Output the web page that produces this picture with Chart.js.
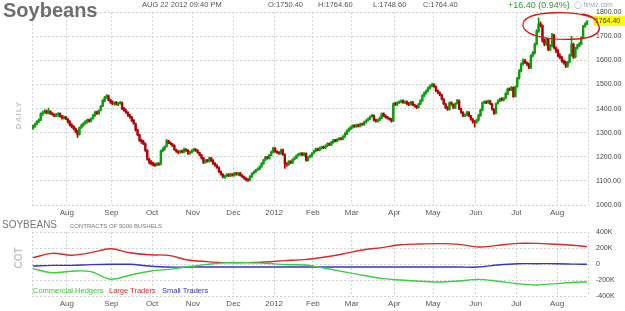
<!DOCTYPE html>
<html>
<head>
<meta charset="utf-8">
<script src="https://cdn.jsdelivr.net/npm/chart.js@4.4.0/dist/chart.umd.min.js"></script>
<style>
  body { margin: 0; width: 625px; height: 311px; overflow: hidden; background: #fff; position: relative;
         font-family: 'Liberation Sans', Arial, sans-serif; }
  canvas { position: absolute; left: 0; }
  .t { position: absolute; white-space: nowrap; }
  .hd { top: 0; font-size: 7.5px; line-height: 10px; color: #555; }
  .rot { transform: translate(-50%, -50%) rotate(-90deg); font-weight: bold; color: #c4c4c4; }
</style>
</head>
<body>
<canvas id="price" width="625" height="218" style="top:0"></canvas>
<canvas id="cot" width="625" height="93" style="top:218px"></canvas>

<div class="t" style="left:3px;top:-2px;font-size:20px;line-height:24px;font-weight:bold;color:#6e6e6e">Soybeans</div>
<div class="t hd" style="left:142px">AUG 22 2012 09:40 PM</div>
<div class="t hd" style="left:268px">O:1750.40</div>
<div class="t hd" style="left:318px">H:1764.60</div>
<div class="t hd" style="left:373px">L:1748.60</div>
<div class="t hd" style="left:423px">C:1764.40</div>
<div class="t" style="left:508px;top:0;font-size:9px;line-height:10px;color:#2f9e2f">+16.40 (0.94%)</div>
<div class="t" style="left:574px;top:1px;font-size:6.5px;line-height:8px;color:#8ea6c8">&#9711; finviz.com</div>
<div class="t" style="left:593px;top:16px;width:32px;height:10px;background:#ffff00;font-size:7px;line-height:10px;color:#333">&nbsp;1764.40</div>
<div class="t rot" style="left:18px;top:115px;font-size:8px;letter-spacing:1px">DAILY</div>

<div class="t" style="left:2px;top:219px;font-size:10px;line-height:12px;color:#777">SOYBEANS</div>
<div class="t" style="left:70px;top:222px;font-size:6px;line-height:8px;color:#777">CONTRACTS OF 5000 BUSHELS</div>
<div class="t rot" style="left:18px;top:258px;font-size:10px">COT</div>
<div class="t" style="left:33px;top:286px;font-size:7.5px;line-height:9px;color:#33cc33">Commercial Hedgers</div>
<div class="t" style="left:109px;top:286px;font-size:7.5px;line-height:9px;color:#dd2a2a">Large Traders</div>
<div class="t" style="left:162px;top:286px;font-size:7.5px;line-height:9px;color:#3333cc">Small Traders</div>

<svg class="t" style="left:0;top:0" width="625" height="311">
  <path d="M593 18 C576 11, 533 10, 524 21 C517 35, 548 41, 577 39 C594 38, 603 32, 598 24 C596 19, 590 15, 582 14"
        fill="none" stroke="#e01414" stroke-width="1.3"/>
</svg>

<script>
// month ticks: first trading day index of each month
var monthLabels = ['Aug', 'Sep', 'Oct', 'Nov', 'Dec', '2012', 'Feb', 'Mar', 'Apr', 'May', 'Jun', 'Jul', 'Aug'];
var monthStarts = [18, 41, 62, 83, 104, 125, 145, 165, 187, 207, 229, 250, 271];

// daily soybean prices, Jul 2011 - Aug 22 2012
var opens = [
  1318,1327,1336,1347,1353,1377,1385,1391,1381,1389,1381,1375,1369,1373,1379,1369,1359,1365,
  1357,1346,1333,1326,1317,1306,1293,1321,1329,1339,1344,1353,1349,1359,1371,1386,1379,1393,1411,1432,1446,1453,1436,
  1429,1419,1425,1417,1421,1424,1401,1393,1384,1373,1364,1351,1337,1311,1291,1269,1263,1254,1226,1191,1179,
  1174,1169,1165,1171,1170,1224,1233,1243,1265,1259,1253,1247,1229,1223,1217,1225,1219,1231,1227,1213,1219,
  1225,1231,1225,1217,1207,1196,1177,1185,1181,1196,1184,1173,1164,1155,1139,1127,1115,1121,1126,1121,1128,
  1123,1132,1127,1133,1123,1117,1111,1105,1104,1117,1132,1137,1146,1149,1159,1171,1187,1199,1193,1207,1219,
  1236,1221,1219,1213,1229,1209,1171,1167,1181,1175,1189,1195,1206,1209,1215,1207,1213,1185,1199,1204,
  1215,1224,1233,1227,1235,1241,1237,1245,1255,1249,1259,1269,1264,1271,1277,1273,1283,1295,1307,1315,
  1321,1331,1325,1333,1327,1338,1333,1344,1351,1357,1367,1371,1353,1347,1353,1361,1379,1371,1365,1359,1357,1350,
  1421,1417,1425,1427,1433,1425,1429,1421,1417,1427,1416,1411,1404,1419,1432,1455,1464,1475,1485,1494,
  1501,1491,1475,1466,1457,1439,1419,1404,1397,1425,1417,1404,1421,1432,1399,1384,1370,1375,1384,1369,1356,1347,
  1345,1353,1371,1394,1423,1429,1425,1431,1419,1397,1381,1421,1431,1441,1435,1443,1461,1482,1477,1487,1451,
  1491,1526,1556,1585,1599,1590,1585,1570,1620,1631,1668,1721,1753,1744,1681,1666,1689,1645,1661,1705,1652,
  1641,1618,1613,1597,1591,1576,1593,1621,1667,1613,1651,1661,1667,1694,1741,1750.4
];
var highs = [
  1332,1340,1350,1358,1382,1390,1396,1394,1402,1392,1384,1378,1380,1384,1382,1372,1370,1368,
  1360,1350,1338,1330,1320,1310,1324,1336,1342,1350,1356,1356,1362,1376,1390,1390,1396,1414,1437,1451,1458,1456,1440,
  1432,1428,1430,1426,1430,1428,1405,1398,1388,1376,1368,1354,1340,1315,1294,1274,1268,1258,1230,1195,1184,
  1178,1174,1176,1176,1228,1238,1246,1272,1268,1262,1256,1250,1232,1226,1228,1228,1236,1234,1230,1224,1230,
  1236,1234,1230,1220,1210,1198,1188,1190,1198,1198,1188,1176,1168,1158,1142,1130,1124,1130,1130,1132,1130,
  1136,1136,1136,1136,1126,1120,1114,1110,1122,1134,1142,1148,1154,1162,1176,1190,1202,1202,1210,1224,1240,
  1238,1226,1222,1232,1232,1212,1176,1184,1184,1192,1200,1208,1214,1218,1218,1218,1216,1202,1208,1218,
  1228,1236,1236,1240,1244,1244,1250,1258,1258,1264,1272,1272,1276,1280,1280,1288,1300,1312,1320,1326,
  1334,1334,1336,1336,1340,1340,1348,1354,1362,1370,1376,1374,1356,1356,1366,1382,1382,1374,1368,1362,1360,1424,
  1426,1428,1432,1436,1436,1432,1432,1426,1430,1430,1418,1414,1422,1437,1458,1470,1478,1490,1499,1506,
  1504,1494,1478,1470,1460,1442,1422,1408,1428,1428,1420,1424,1438,1436,1402,1388,1378,1390,1388,1372,1360,1350,
  1356,1376,1398,1428,1432,1432,1436,1434,1422,1400,1424,1436,1444,1446,1446,1466,1485,1486,1492,1490,1494,
  1530,1562,1590,1606,1604,1594,1590,1624,1638,1672,1728,1776,1760,1748,1690,1694,1692,1666,1712,1708,1656,
  1646,1628,1618,1602,1596,1596,1626,1700,1672,1654,1668,1674,1698,1746,1756,1764.6
];
var lows = [
  1314,1322,1332,1342,1350,1372,1380,1378,1378,1376,1372,1366,1366,1368,1364,1356,1356,1354,
  1340,1328,1320,1312,1300,1280,1290,1318,1326,1334,1340,1344,1345,1356,1368,1376,1376,1390,1408,1428,1442,1432,1422,
  1416,1414,1414,1412,1418,1396,1388,1380,1368,1360,1346,1334,1306,1288,1264,1256,1250,1222,1186,1170,1166,
  1162,1160,1162,1164,1166,1220,1228,1240,1254,1250,1242,1226,1218,1212,1214,1216,1216,1222,1210,1210,1216,
  1222,1222,1214,1204,1190,1172,1174,1178,1178,1180,1168,1160,1152,1134,1124,1112,1110,1116,1118,1118,1120,
  1120,1124,1122,1120,1114,1106,1100,1098,1100,1114,1128,1134,1142,1146,1156,1168,1184,1190,1190,1204,1216,
  1218,1214,1210,1210,1206,1152,1160,1164,1172,1172,1186,1192,1202,1206,1204,1204,1182,1182,1196,1200,
  1212,1220,1224,1224,1232,1234,1234,1242,1246,1246,1256,1262,1262,1268,1270,1270,1280,1292,1304,1312,
  1318,1322,1322,1324,1324,1330,1330,1340,1348,1354,1364,1348,1344,1344,1350,1358,1366,1360,1356,1352,1344,1346,
  1412,1412,1420,1424,1422,1420,1416,1412,1414,1412,1406,1400,1402,1416,1430,1450,1460,1470,1482,1490,
  1488,1470,1462,1454,1436,1416,1400,1392,1394,1414,1400,1400,1418,1396,1380,1366,1366,1370,1366,1352,1340,1323,
  1338,1348,1368,1390,1420,1420,1422,1416,1394,1376,1378,1418,1428,1432,1432,1440,1458,1474,1474,1446,1448,
  1488,1522,1552,1580,1586,1578,1566,1566,1614,1626,1664,1716,1738,1676,1660,1662,1640,1640,1656,1648,1632,
  1614,1606,1592,1584,1570,1572,1590,1618,1608,1610,1646,1656,1664,1690,1738,1748.6
];
var closes = [
  1328,1335,1346,1352,1378,1384,1390,1382,1388,1380,1376,1370,1374,1378,1368,1360,1364,1358,
  1345,1332,1325,1318,1305,1292,1320,1330,1338,1345,1352,1348,1358,1372,1385,1380,1392,1410,1433,1447,1452,1435,1428,
  1420,1424,1418,1422,1425,1400,1392,1385,1372,1365,1350,1338,1310,1292,1268,1262,1255,1227,1190,1178,1173,
  1168,1164,1172,1168,1225,1232,1242,1266,1258,1254,1246,1230,1222,1218,1224,1220,1232,1226,1214,1220,1226,
  1230,1226,1218,1208,1195,1178,1184,1182,1195,1185,1172,1165,1156,1138,1128,1116,1120,1125,1122,1127,1124,
  1131,1128,1132,1124,1118,1110,1106,1103,1118,1131,1138,1145,1150,1158,1172,1186,1198,1194,1206,1220,1235,
  1222,1218,1214,1228,1210,1172,1168,1180,1176,1188,1196,1205,1210,1214,1208,1214,1186,1198,1205,1214,
  1225,1232,1228,1236,1240,1238,1246,1254,1250,1260,1268,1265,1272,1276,1274,1284,1296,1308,1316,1322,
  1330,1326,1332,1328,1337,1334,1345,1350,1358,1366,1372,1352,1348,1352,1362,1378,1370,1364,1360,1356,1348,1420,
  1418,1424,1428,1432,1426,1428,1420,1418,1426,1415,1410,1405,1418,1433,1454,1465,1474,1486,1495,1500,
  1492,1474,1467,1458,1440,1420,1405,1398,1424,1418,1405,1420,1433,1400,1385,1371,1374,1385,1370,1357,1348,1344,
  1352,1372,1395,1424,1428,1426,1432,1420,1398,1380,1420,1432,1440,1436,1442,1462,1481,1478,1488,1450,1490,
  1525,1557,1584,1598,1591,1584,1571,1619,1632,1667,1722,1752,1745,1682,1667,1688,1646,1660,1706,1653,1640,
  1619,1612,1598,1590,1577,1592,1622,1668,1614,1650,1662,1668,1695,1742,1750.4,1764.4
];

// COT positions (thousands of contracts), sampled at these trading-day indexes
var cotIdx = [0, 10, 20, 30, 40, 50, 60, 70, 80, 90, 100, 110, 120, 130, 140, 150, 160, 170, 180, 190, 200, 210, 220, 230, 240, 250, 260, 270, 280, 286];
var largeTraders = [79, 133, 110, 142, 190, 140, 115, 108, 50, 30, 17, 17, 25, 42, 55, 85, 125, 175, 205, 240, 250, 255, 245, 212, 233, 258, 258, 246, 232, 217];
var commercialHedgers = [-58, -108, -90, -96, -190, -140, -90, -67, -35, -5, 17, 17, 10, -8, -12, -50, -95, -140, -180, -200, -215, -225, -212, -192, -215, -246, -262, -245, -228, -225];
var smallTraders = [-25, -17, -17, -8, -4, -4, -25, -38, -38, -38, -38, -38, -38, -38, -38, -38, -38, -38, -38, -38, -38, -38, -38, -38, -12, 4, 4, 4, -2, -4];

var GREEN = '#0a9e0a', RED = '#b50000';
var last = closes.length - 1;
var xTickVals = [-0.5].concat(monthStarts.map(function(m) { return m - 0.5; }), [last + 0.5]);
var xTickLabels = [''].concat(monthLabels, ['']);

Chart.defaults.font.family = "'Liberation Sans', Arial, sans-serif";

function candleColor(i) {
  return closes[i] >= opens[i] ? GREEN : RED;
}

function xAxis(h) {
  return {
    type: 'linear', min: -0.5, max: last + 0.5, offset: false,
    afterBuildTicks: function(s) { s.ticks = xTickVals.map(function(v) { return {value: v}; }); },
    afterFit: function(s) { s.height = h; },
    grid: {color: '#d2d2d2', drawTicks: false, offset: false},
    border: {display: false, dash: [2, 2]},
    ticks: {autoSkip: false, maxRotation: 0, padding: 3, color: '#555', font: {size: 8},
            callback: function(v, i) { return xTickLabels[i]; }}
  };
}

new Chart(document.getElementById('price'), {
  type: 'bar',
  data: {
    datasets: [{
      data: lows.map(function(l, i) { return {x: i, y: [l, highs[i]]}; }),
      backgroundColor: function(ctx) { return candleColor(ctx.dataIndex); },
      barThickness: 1, grouped: false, order: 2
    }, {
      data: closes.map(function(c, i) { return {x: i, y: [opens[i], c]}; }),
      backgroundColor: function(ctx) { return candleColor(ctx.dataIndex); },
      barThickness: 1.7, minBarLength: 1, grouped: false, order: 1
    }]
  },
  options: {
    responsive: false, animation: false,
    layout: {padding: {left: 32, top: 11}},
    plugins: {legend: {display: false}, tooltip: {enabled: false}},
    scales: {
      x: xAxis(13),
      y: {
        position: 'right', min: 1000, max: 1800,
        afterFit: function(s) { s.width = 37; },
        grid: {color: '#d2d2d2', drawTicks: false},
        border: {display: false, dash: [2, 2]},
        ticks: {stepSize: 100, padding: 8, color: '#444', font: {size: 7},
                callback: function(v) { return v.toFixed(2); }}
      }
    }
  }
});

function cotSeries(vals, color) {
  return {
    data: cotIdx.map(function(x, i) { return {x: x, y: vals[i]}; }),
    borderColor: color, borderWidth: 1.4, pointRadius: 0, tension: 0.35, fill: false
  };
}

new Chart(document.getElementById('cot'), {
  type: 'line',
  data: {
    datasets: [
      cotSeries(commercialHedgers, '#3ccc3c'),
      cotSeries(largeTraders, '#d42a2a'),
      cotSeries(smallTraders, '#3434d0')
    ]
  },
  options: {
    responsive: false, animation: false,
    layout: {padding: {left: 32, top: 14}},
    plugins: {legend: {display: false}, tooltip: {enabled: false}},
    scales: {
      x: xAxis(15),
      y: {
        position: 'right', min: -400, max: 400,
        afterFit: function(s) { s.width = 37; },
        grid: {color: '#d2d2d2', drawTicks: false},
        border: {display: false, dash: [2, 2]},
        ticks: {stepSize: 200, padding: 8, color: '#444', font: {size: 7},
                callback: function(v) { return v === 0 ? '0' : v + 'K'; }}
      }
    }
  }
});
</script>
</body>
</html>
